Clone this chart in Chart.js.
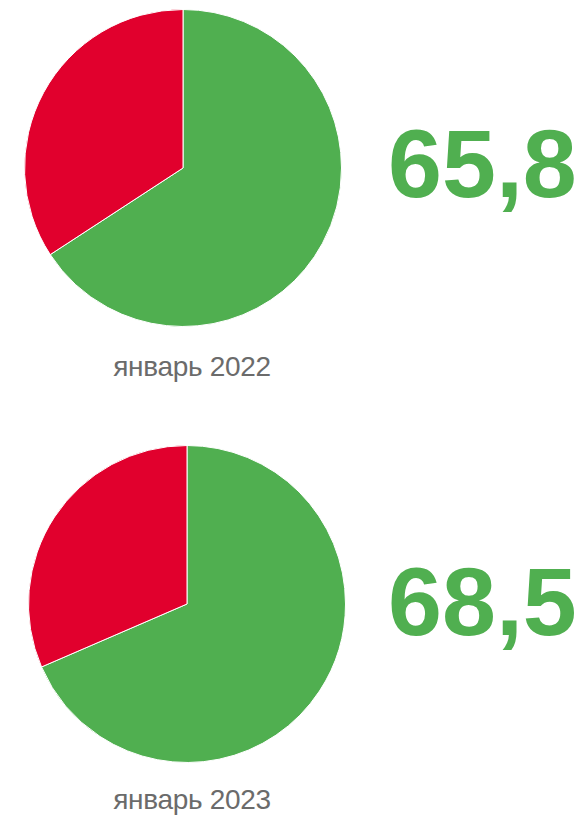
<!DOCTYPE html>
<html>
<head>
<meta charset="utf-8">
<script src="https://cdn.jsdelivr.net/npm/chart.js@4"></script>
<style>
  html, body { margin: 0; padding: 0; background: #fff; }
  body { width: 577px; height: 816px; position: relative; overflow: hidden; font-family: "Liberation Sans", Arial, sans-serif; }
  .pie { position: absolute; width: 318px; height: 318px; }
  .pie canvas { width: 318px; height: 318px; }
  .big { position: absolute; left: 388px; font-size: 97px; font-weight: bold; color: #50AF50; line-height: 1; white-space: nowrap; }
  .label { position: absolute; width: 240px; text-align: center; font-size: 28px; color: #6b6b6b; line-height: 1; white-space: nowrap; letter-spacing: -0.3px; }
</style>
</head>
<body>
  <div class="pie" style="left:24px; top:9px;"><canvas id="pie2022"></canvas></div>
  <div class="big" style="top:115px;" id="val2022"></div>
  <div class="label" style="left:72px; top:353px;" id="lab2022"></div>

  <div class="pie" style="left:28px; top:445px;"><canvas id="pie2023"></canvas></div>
  <div class="big" style="top:553px;" id="val2023"></div>
  <div class="label" style="left:72px; top:786px;" id="lab2023"></div>

<script>
// --- data ---
const periods = ['январь 2022', 'январь 2023'];
const shareGreen = [65.8, 68.5];
const shareRed = [34.2, 31.5];
const sliceColors = ['#50AF50', '#E1002D'];

const ids = ['2022', '2023'];

ids.forEach((id, i) => {
    document.getElementById('val' + id).textContent = shareGreen[i].toFixed(1).replace('.', ',');
    document.getElementById('lab' + id).textContent = periods[i];

    new Chart(document.getElementById('pie' + id), {
        type: 'pie',
        data: {
            labels: ['green', 'red'],
            datasets: [{
                data: [shareGreen[i], shareRed[i]],
                backgroundColor: sliceColors,
                borderColor: '#ffffff',
                borderWidth: 1
            }]
        },
        options: {
            responsive: false,
            animation: false,
            layout: { padding: 0 },
            plugins: {
                legend: { display: false },
                tooltip: { enabled: false }
            }
        }
    });
});
</script>
</body>
</html>
